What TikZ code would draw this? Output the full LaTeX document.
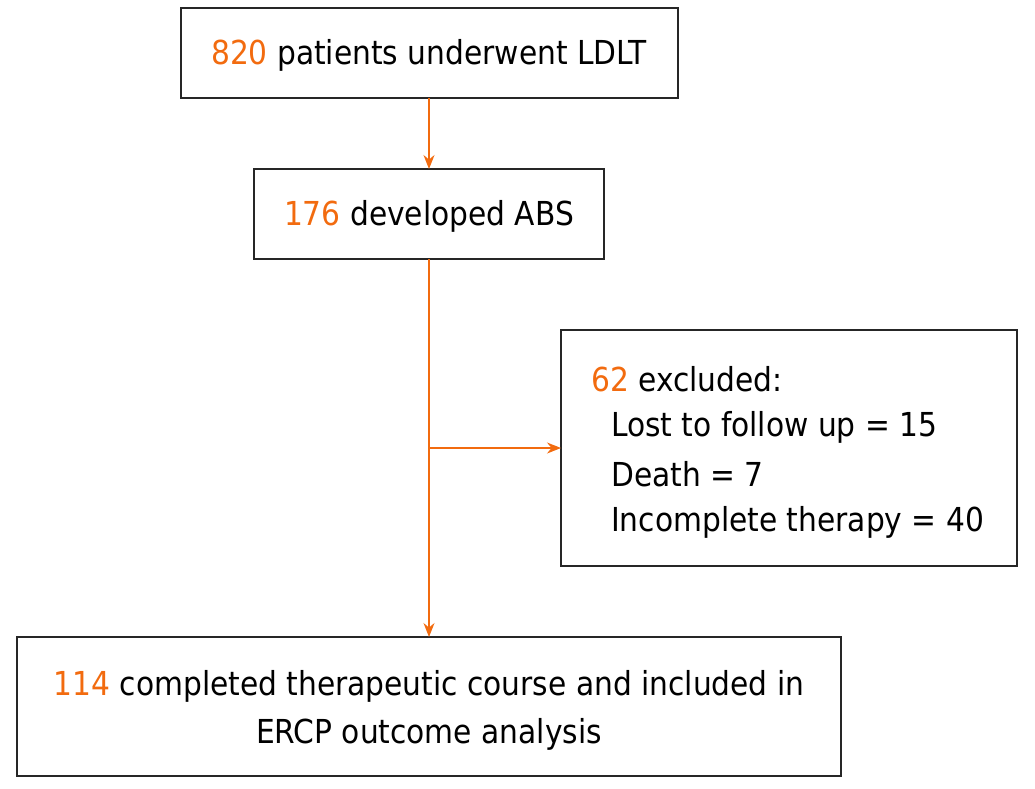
\documentclass[tikz,border=0pt]{standalone}
\usepackage{fontspec}
\setmainfont{DejaVu Sans Condensed}
\usetikzlibrary{arrows.meta}
\definecolor{org}{HTML}{F26B0F}
\begin{document}
\begin{tikzpicture}[x=1pt,y=-1pt,
 box/.style={draw=black!85,line width=1.3pt,inner sep=0pt},
 txt/.style={font=\fontsize{33}{48}\selectfont,inner sep=0pt},
 arr/.style={draw=org,line width=1.3pt,-{Stealth[length=14pt,width=11pt]}}]
\useasboundingbox (0,0) rectangle (1035,788);
\draw[box] (181,8) rectangle (678,98);
\draw[box] (254,169) rectangle (604,259);
\draw[box] (561,330) rectangle (1017,566);
\draw[box] (17,637) rectangle (841,776);
\coordinate (b1) at (429,98); \coordinate (t2) at (429,169);
\coordinate (b2) at (429,259); \coordinate (t4) at (429,637);
\coordinate (br) at (429,448); \coordinate (l3) at (561,448);
\node[txt] (n1) at (429,55) {\textcolor{org}{820} patients underwent LDLT};
\node[txt] (n2) at (429,216) {\textcolor{org}{176} developed ABS};
\node[txt,anchor=west] (n3a) at (591,379) {\textcolor{org}{62} excluded:};
\node[txt,anchor=west] (n3b) at (611,427) {Lost to follow up = 15};
\node[txt,anchor=west] (n3c) at (611,474) {Death = 7};
\node[txt,anchor=west] (n3d) at (611,522) {Incomplete therapy = 40};
\node[txt] (n4a) at (429,686) {\textcolor{org}{114} completed therapeutic course and included in};
\node[txt] (n4b) at (429,734) {ERCP outcome analysis};
\draw[arr] (b1) -- (t2);
\draw[arr] (b2) -- (t4);
\draw[arr] (br) -- (l3);
\end{tikzpicture}
\end{document}
